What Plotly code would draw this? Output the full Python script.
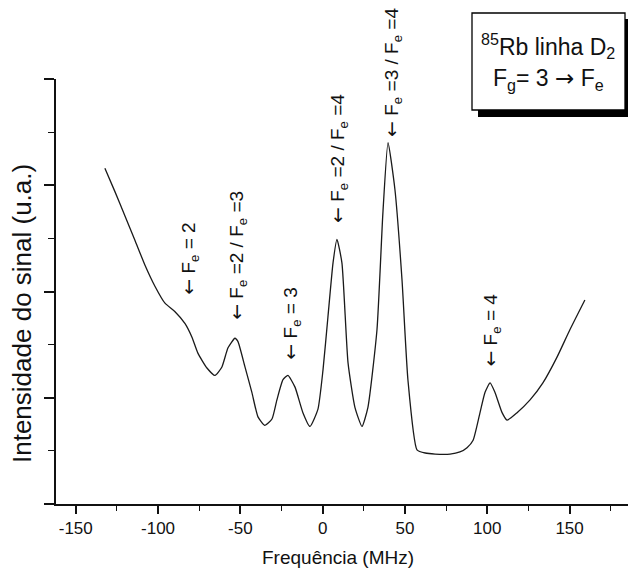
import plotly.graph_objects as go

# ---- data ----
freq_mhz = [-132.3, -126.2, -120.1, -114.0, -108.0, -101.9, -95.8, -89.7, -83.7, -79.4,
            -75.8, -70.3, -65.4, -61.2, -57.5, -53.3, -51.5, -47.2, -43.0, -39.3,
            -35.1, -30.8, -27.8, -24.1, -21.1, -16.8, -12.0, -7.7, -2.9, 0.2,
            3.2, 6.3, 8.7, 11.7, 15.4, 19.6, 23.9, 27.5, 33.0, 36.6,
            39.7, 43.9, 48.2, 51.8, 57.3, 62.3, 68.3, 77.4, 83.4, 87.7,
            91.4, 95.6, 98.6, 101.7, 104.7, 109.0, 112.0, 118.1, 126.0, 133.8,
            142.3, 150.2, 159.3]
signal = [3.16, 2.94, 2.71, 2.48, 2.25, 2.05, 1.89, 1.81, 1.70, 1.57,
          1.42, 1.28, 1.21, 1.29, 1.47, 1.56, 1.53, 1.29, 1.05, 0.82,
          0.74, 0.80, 0.98, 1.17, 1.21, 1.10, 0.86, 0.73, 0.89, 1.26,
          1.76, 2.27, 2.49, 2.27, 1.33, 0.91, 0.73, 0.91, 1.64, 2.74,
          3.40, 2.96, 2.11, 1.17, 0.51, 0.48, 0.47, 0.47, 0.49, 0.53,
          0.60, 0.86, 1.05, 1.14, 1.05, 0.86, 0.79, 0.86, 0.98, 1.14,
          1.38, 1.64, 1.92]

ARROW_L = '<span style="font-family:DejaVu Sans">←</span>'
ARROW_R = '<span style="font-family:DejaVu Sans">→</span>'

label_texts = [ARROW_L + " F<sub>e</sub> = 2",
               ARROW_L + " F<sub>e</sub> =2 / F<sub>e</sub> =3",
               ARROW_L + " F<sub>e</sub> = 3",
               ARROW_L + " F<sub>e</sub> =2 / F<sub>e</sub> =4",
               ARROW_L + " F<sub>e</sub> =3 / F<sub>e</sub> =4",
               ARROW_L + " F<sub>e</sub> = 4"]
label_freq = [-80.6, -51.4, -18.6, 9.3, 42.1, 102.9]
label_base = [1.95, 1.71, 1.34, 2.63, 3.44, 1.27]

x_ticks = [-150, -100, -50, 0, 50, 100, 150]
x_tick_labels = ["-150", "-100", "-50", "0", "50", "100", "150"]

# ---- layout geometry ----
W, H = 628, 576
ML, MR, MT, MB = 56, 0, 79, 72
PW, PH = W - ML - MR, H - MT - MB


def px2x(px):
    return (px - ML) / PW


def px2y(py):
    return (H - MB - py) / PH


FONT = "Liberation Sans, Arial, sans-serif"

fig = go.Figure()
fig.add_trace(go.Scatter(x=freq_mhz, y=signal, mode="lines",
                         line=dict(color="#1a1a1a", width=1.3, shape="spline", smoothing=0.5),
                         showlegend=False, hoverinfo="skip"))

annotations = []
for t, fx, fy in zip(label_texts, label_freq, label_base):
    annotations.append(dict(x=fx, y=fy, xref="x", yref="y", text=t, showarrow=False,
                            textangle=-90, xanchor="center", yanchor="bottom",
                            font=dict(family=FONT, size=19, color="#111")))

# axis titles
annotations.append(dict(x=px2x(22), y=px2y(314), xref="paper", yref="paper",
                        text="Intensidade do sinal (u.a.)", showarrow=False, textangle=-90,
                        xanchor="center", yanchor="middle",
                        font=dict(family=FONT, size=26, color="#111")))
annotations.append(dict(x=px2x(338), y=px2y(557), xref="paper", yref="paper",
                        text="Frequência (MHz)", showarrow=False,
                        xanchor="center", yanchor="middle",
                        font=dict(family=FONT, size=19, color="#111")))
# box text
annotations.append(dict(x=px2x(548), y=px2y(46), xref="paper", yref="paper",
                        text="<sup>85</sup>Rb linha D<sub>2</sub>", showarrow=False,
                        xanchor="center", yanchor="middle",
                        font=dict(family=FONT, size=23, color="#111")))
annotations.append(dict(x=px2x(548), y=px2y(80), xref="paper", yref="paper",
                        text="F<sub>g</sub>= 3 " + ARROW_R + " F<sub>e</sub>", showarrow=False,
                        xanchor="center", yanchor="middle",
                        font=dict(family=FONT, size=23, color="#111")))

shapes = [
    dict(type="rect", xref="paper", yref="paper", x0=px2x(478), x1=px2x(634),
         y0=px2y(117), y1=px2y(19), fillcolor="black", line=dict(width=0), layer="above"),
    dict(type="rect", xref="paper", yref="paper", x0=px2x(472), x1=px2x(625),
         y0=px2y(110), y1=px2y(13), fillcolor="white", line=dict(color="black", width=1.3),
         layer="above"),
]

fig.update_layout(
    width=W, height=H,
    margin=dict(l=ML, r=MR, t=MT, b=MB, autoexpand=False),
    paper_bgcolor="white", plot_bgcolor="white",
    font=dict(family=FONT, size=17, color="#111"),
    annotations=annotations, shapes=shapes,
    xaxis=dict(range=[-162, 185.5], tickvals=x_ticks, ticktext=x_tick_labels,
               ticks="outside", ticklen=8, tickwidth=1.5,
               tickcolor="#111", showline=True, linecolor="#111", linewidth=1.5,
               showgrid=False, zeroline=False, tickfont=dict(size=17),
               minor=dict(dtick=25, tick0=0, ticks="outside", ticklen=5, tickwidth=1.3,
                          tickcolor="#111", showgrid=False)),
    yaxis=dict(range=[0, 4], dtick=1, ticks="outside", ticklen=10, tickwidth=1.5,
               tickcolor="#111", showline=True, linecolor="#111", linewidth=1.5,
               showgrid=False, zeroline=False, showticklabels=False,
               minor=dict(dtick=0.5, tick0=0, ticks="outside", ticklen=6, tickwidth=1.3,
                          tickcolor="#111", showgrid=False)),
)

fig.write_html("out.html")
